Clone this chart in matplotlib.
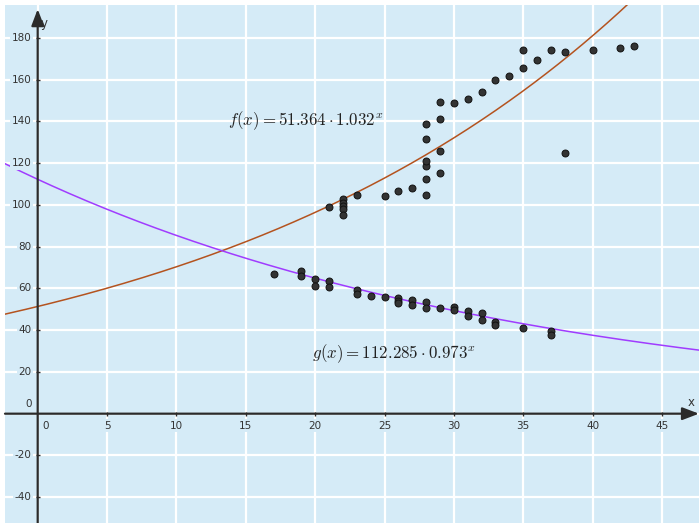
import numpy as np
import matplotlib
matplotlib.use("Agg")
import matplotlib.pyplot as plt

# scatter data
f_x = [21, 22, 22, 22, 22, 22, 23, 25, 26, 27, 28, 28, 28, 28, 28, 28,
       29, 29, 29, 29, 30, 31, 32, 33, 34, 35, 35, 36, 37, 38, 38, 40, 42, 43]
f_y = [99, 103, 101, 99.5, 98, 95, 105, 104.5, 106.5, 108, 105, 112.5, 118.5, 121, 131.7, 138.8,
       115.3, 125.8, 141.3, 149.5, 148.7, 150.9, 153.9, 160, 161.8, 165.6, 174.4, 169.6, 174.4,
       173.1, 125, 174.4, 175.2, 176]

g_x = [17, 19, 19, 20, 20, 21, 21, 23, 23, 24, 25, 26, 26, 26, 27, 27, 28, 28, 29,
       30, 30, 31, 31, 32, 32, 33, 33, 35, 37, 37]
g_y = [66.8, 68.2, 66, 64.7, 61.2, 63.8, 60.8, 59.2, 57.5, 56.4, 55.7, 55.5, 54.2, 53.2,
       54.3, 52.3, 53.5, 50.7, 50.7, 51, 49.8, 49.1, 47, 48.1, 45.1, 43.8, 42.3, 41.2, 39.5, 37.7]

# fitted models
f_a, f_b = 51.364, 1.032
g_a, g_b = 112.285, 0.973

x_ticks = [0, 5, 10, 15, 20, 25, 30, 35, 40, 45]
y_ticks = [-40, -20, 0, 20, 40, 60, 80, 100, 120, 140, 160, 180]

bg = '#d5ebf7'
axis_col = '#2b2b2b'
label_col = '#333333'

plt.rcParams['mathtext.fontset'] = 'cm'

W, H = 699, 523
fig = plt.figure(figsize=(W / 100, H / 100), dpi=100, facecolor='white')
ax = fig.add_axes([5 / W, 0, (W - 5) / W, (H - 5) / H])
ax.set_facecolor(bg)

xmin, xmax = -2.357, 47.67
ymin, ymax = -52.37, 195.8
ax.set_xlim(xmin, xmax)
ax.set_ylim(ymin, ymax)

for s in ax.spines.values():
    s.set_visible(False)
ax.set_xticks([])
ax.set_yticks([])

# white grid
for xv in x_ticks:
    ax.axvline(xv, color='white', lw=1.6, zorder=1)
for yv in y_ticks:
    ax.axhline(yv, color='white', lw=1.6, zorder=1)

# curves
xs = np.linspace(xmin, xmax, 400)
ax.plot(xs, f_a * f_b ** xs, color='#b4531f', lw=1.1, zorder=3)
ax.plot(xs, g_a * g_b ** xs, color='#a03cff', lw=1.1, zorder=3)

# axes with arrows
arrow = dict(arrowstyle='-|>,head_length=1.0,head_width=0.38', color=axis_col,
             lw=1.6, shrinkA=0, shrinkB=0, mutation_scale=10)
ax.annotate('', xy=(1, 0), xycoords=('axes fraction', 'data'),
            xytext=(0, 0), textcoords=('axes fraction', 'data'), arrowprops=arrow, zorder=4)
ax.annotate('', xy=(0, 0.992), xycoords=('data', 'axes fraction'),
            xytext=(0, 0), textcoords=('data', 'axes fraction'), arrowprops=arrow, zorder=4)
ax.annotate('x', xy=(1, 0), xycoords=('axes fraction', 'data'), xytext=(-8, 5),
            textcoords='offset pixels', fontsize=8.5, color=label_col, ha='center', va='bottom')
ax.annotate('y', xy=(0, 0.992), xycoords=('data', 'axes fraction'), xytext=(6, -8),
            textcoords='offset pixels', fontsize=8.5, color=label_col, ha='center', va='top')

# tick marks and labels
lbl_box = dict(facecolor=bg, edgecolor='none', pad=1.2)
for xv in x_ticks:
    if xv != 0:
        ax.plot([xv], [0], marker='|', ms=3, color=axis_col, mew=1, zorder=5)
    tx = ax.annotate(str(xv), xy=(xv, 0), xytext=(8 if xv == 0 else 0, -7),
                     textcoords='offset pixels', ha='center', va='top',
                     fontsize=7.5, color=label_col, zorder=5)
    tx.set_bbox(lbl_box)
for yv in y_ticks:
    if yv != 0:
        ax.plot([0], [yv], marker='_', ms=3, color=axis_col, mew=1, zorder=5)
    ty = ax.annotate(str(yv), xy=(0, yv), xytext=(-6, 5 if yv == 0 else 0),
                     textcoords='offset pixels', ha='right',
                     va='bottom' if yv == 0 else 'center',
                     fontsize=7.5, color=label_col, zorder=5)
    ty.set_bbox(lbl_box)

# data points
ax.scatter(f_x, f_y, s=25, color='#333333', edgecolors='#111111', linewidths=0.7, zorder=6)
ax.scatter(g_x, g_y, s=25, color='#333333', edgecolors='#111111', linewidths=0.7, zorder=6)

# formulas
ax.text(13.72, 138.3, r'$f(x) = 51.364\cdot 1.032^x$', fontsize=12.2,
        color='#222222', ha='left', va='baseline', zorder=6)
ax.text(19.75, 26.5, r'$g(x) = 112.285\cdot 0.973^x$', fontsize=12.2,
        color='#222222', ha='left', va='baseline', zorder=6)

fig.savefig('out.png', dpi=100, facecolor='white')
